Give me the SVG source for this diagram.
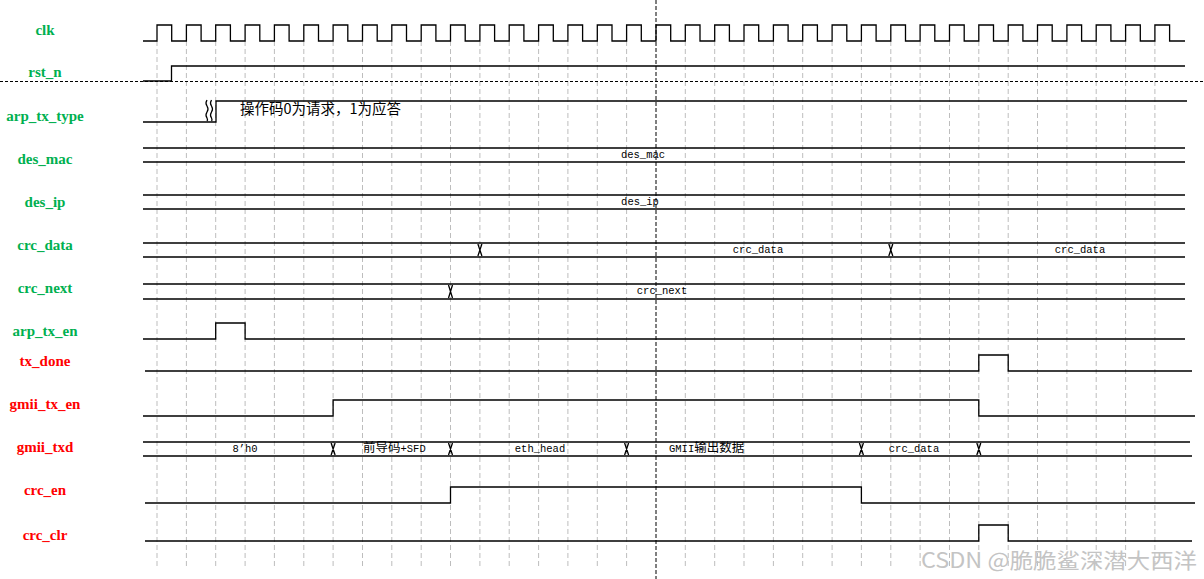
<svg xmlns="http://www.w3.org/2000/svg" width="1204" height="579" viewBox="0 0 1204 579">
<style>
.w{fill:none;stroke:#000;stroke-width:1.3}
.grid{fill:none;stroke:#bdbdbd;stroke-width:1;stroke-dasharray:5 3}
.lg{font-family:"Liberation Serif",serif;font-weight:bold;font-size:15px;fill:#00b050;text-anchor:middle}
.lr{font-family:"Liberation Serif",serif;font-weight:bold;font-size:15px;fill:#ff0000;text-anchor:middle}
.d{font-family:"Liberation Mono","Noto Sans CJK SC",monospace;font-size:10.5px;fill:#000}
.c{text-anchor:middle}
.cjk{font-family:"Noto Sans CJK SC",sans-serif;font-size:12.5px}
</style>
<rect width="1204" height="579" fill="#fff"/>
<g id="grid">
<path class="grid" d="M157,41V567M186.4,41V567M215.7,41V567M245.1,41V567M274.4,41V567M303.8,41V567M333.1,41V567M362.5,41V567M391.8,41V567M421.2,41V567M450.5,41V567M479.9,41V567M509.2,41V567M538.6,41V567M567.9,41V567M597.3,41V567M626.6,41V567M685.3,41V567M714.7,41V567M744,41V567M773.4,41V567M802.7,41V567M832.1,41V567M861.4,41V567M890.8,41V567M920.1,41V567M949.5,41V567M978.8,41V567M1008.2,41V567M1037.5,41V567M1066.9,41V567M1096.2,41V567M1125.6,41V567M1154.9,41V567"/>
</g>
<g id="connectors">
<path d="M656,0V579" stroke="#000" stroke-width="1" stroke-dasharray="4 2" fill="none"/>
<path d="M0,81.5H1204" stroke="#000" stroke-width="1" stroke-dasharray="3 2" fill="none"/>
</g>
<g id="labels">
<text class="lg" x="45" y="35">clk</text>
<text class="lg" x="45" y="77">rst_n</text>
<text class="lg" x="45" y="121">arp_tx_type</text>
<text class="lg" x="45" y="164">des_mac</text>
<text class="lg" x="45" y="207">des_ip</text>
<text class="lg" x="45" y="250">crc_data</text>
<text class="lg" x="45" y="293">crc_next</text>
<text class="lg" x="45" y="336">arp_tx_en</text>
<text class="lr" x="45" y="366">tx_done</text>
<text class="lr" x="45" y="409">gmii_tx_en</text>
<text class="lr" x="45" y="452">gmii_txd</text>
<text class="lr" x="45" y="495">crc_en</text>
<text class="lr" x="45" y="540">crc_clr</text>
</g>
<g id="clk">
<path class="w" d="M143,41 H157 V25 H171.7 V41 H186.4 V25 H201.1 V41 H215.7 V25 H230.4 V41 H245.1 V25 H259.8 V41 H274.4 V25 H289.1 V41 H303.8 V25 H318.5 V41 H333.1 V25 H347.8 V41 H362.5 V25 H377.2 V41 H391.8 V25 H406.5 V41 H421.2 V25 H435.9 V41 H450.5 V25 H465.2 V41 H479.9 V25 H494.6 V41 H509.2 V25 H523.9 V41 H538.6 V25 H553.3 V41 H567.9 V25 H582.6 V41 H597.3 V25 H612 V41 H626.6 V25 H641.3 V41 H656 V25 H670.7 V41 H685.3 V25 H700 V41 H714.7 V25 H729.4 V41 H744 V25 H758.7 V41 H773.4 V25 H788.1 V41 H802.7 V25 H817.4 V41 H832.1 V25 H846.8 V41 H861.4 V25 H876.1 V41 H890.8 V25 H905.5 V41 H920.1 V25 H934.8 V41 H949.5 V25 H964.2 V41 H978.8 V25 H993.5 V41 H1008.2 V25 H1022.9 V41 H1037.5 V25 H1052.2 V41 H1066.9 V25 H1081.6 V41 H1096.2 V25 H1110.9 V41 H1125.6 V25 H1140.3 V41 H1154.9 V25 H1169.6 V41 H1185"/>
</g>
<g id="rst_n">
<path class="w" d="M143,81 H171.5 V66 H1185"/>
</g>
<g id="arp_tx_type">
<path class="w" d="M143,122 H216 V101 H1187"/>
<path class="w" stroke-width="1" d="M207,100 q-2,3 0,6 q2,3 0,6 q-2,3 0,6 q1,2 0,3 M211.5,100 q-2,3 0,6 q2,3 0,6 q-2,3 0,6 q1,2 0,3"/>
<text x="240" y="114" font-family="'Noto Sans CJK SC',sans-serif" font-size="14.5" fill="#000">操作码0为请求，1为应答</text>
</g>
<g id="des_mac">
<path class="w" d="M143,148H1185M143,162H1185"/>
<text class="d c" x="643" y="158">des_mac</text>
</g>
<g id="des_ip">
<path class="w" d="M143,195H1185M143,209H1185"/>
<text class="d c" x="640" y="205">des_ip</text>
</g>
<g id="crc_data">
<path class="w" d="M143,243H1185M143,257H1185"/>
<path class="w" d="M477.9,244L481.9,256M481.9,244L477.9,256M888.8,244L892.8,256M892.8,244L888.8,256"/>
<text class="d c" x="758" y="253">crc_data</text>
<text class="d c" x="1080" y="253">crc_data</text>
</g>
<g id="crc_next">
<path class="w" d="M143,284H1185M143,299H1185"/>
<path class="w" d="M448.5,285L452.5,298M452.5,285L448.5,298"/>
<text class="d c" x="662" y="294">crc_next</text>
</g>
<g id="arp_tx_en">
<path class="w" d="M143,339 H215.7 V323 H245.1 V339 H1185"/>
</g>
<g id="tx_done">
<path class="w" d="M145,371 H978.8 V355 H1008.2 V371 H1192"/>
</g>
<g id="gmii_tx_en">
<path class="w" d="M143,416 H333.1 V400 H978.8 V416 H1195"/>
</g>
<g id="gmii_txd">
<path class="w" d="M143,442H1190M143,456H1192"/>
<path class="w" d="M331.1,443L335.1,455M335.1,443L331.1,455M448.5,443L452.5,455M452.5,443L448.5,455M624.6,443L628.6,455M628.6,443L624.6,455M859.4,443L863.4,455M863.4,443L859.4,455M976.8,443L980.8,455M980.8,443L976.8,455"/>
<text class="d c" x="245" y="452">8’h0</text>
<text class="d" x="363" y="452"><tspan class="cjk">前导码</tspan>+SFD</text>
<text class="d c" x="540" y="452">eth_head</text>
<text class="d" x="669" y="452">GMII<tspan class="cjk">输出数据</tspan></text>
<text class="d c" x="914" y="452">crc_data</text>
</g>
<g id="crc_en">
<path class="w" d="M145,503 H450.5 V487 H861.4 V503 H1195"/>
</g>
<g id="crc_clr">
<path class="w" d="M145,541 H978.8 V525 H1008.2 V541 H1192"/>
</g>
<text x="921" y="568" font-family="'Noto Sans CJK SC',sans-serif" font-size="21" fill="#c4c4c4" textLength="276" lengthAdjust="spacingAndGlyphs">CSDN @脆脆鲨深潜大西洋</text>
</svg>
